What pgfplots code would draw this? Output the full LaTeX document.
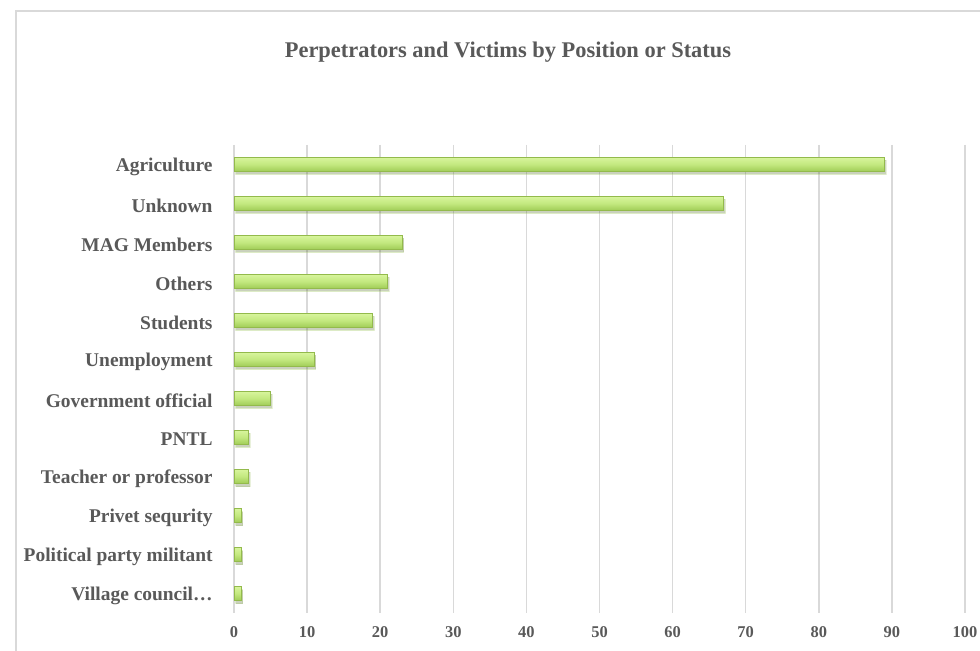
\documentclass[border=0pt]{standalone}
\usepackage{pgfplots}
\pgfplotsset{compat=1.18}
\usepackage{fontspec}
\setmainfont{Liberation Serif}
\usetikzlibrary{shadows}
\definecolor{txt}{HTML}{595959}
\definecolor{gridc}{HTML}{D9D9D9}
\definecolor{bartop}{HTML}{D8F59C}
\definecolor{barmid}{HTML}{C3E87F}
\definecolor{barbot}{HTML}{A0CC56}
\definecolor{baredge}{HTML}{93BA4C}
\pgfplotsset{gbar/.style={draw=baredge, line width=1bp, top color=bartop, bottom color=barbot, middle color=barmid,
  drop shadow={shadow xshift=1.5bp, shadow yshift=-3bp, opacity=0.18, fill=black}}}
\begin{document}
\begin{tikzpicture}[x=1bp,y=1bp]
\useasboundingbox (0,0) rectangle (980,651);
\fill[white] (0,0) rectangle (980,651);
\draw[gridc, line width=1.5bp] (16,0) -- (16,640) -- (980,640);
\node[font=\fontsize{22.5}{27}\selectfont\bfseries, text=txt] at (508,599) {Perpetrators and Victims by Position or Status};
\begin{axis}[at={(234bp,38bp)}, anchor=south west, scale only axis,
  width=731bp, height=468bp,
  xmin=0, xmax=100, ymin=-0.5, ymax=11.5, y dir=reverse,
  xtick={0,10,...,100}, ytick={0,...,11},
  yticklabels={Agriculture,Unknown,MAG Members,Others,Students,Unemployment,Government official,PNTL,Teacher or professor,Privet sequrity,Political party militant,Village council…},
  xmajorgrids, major grid style={gridc, line width=1.5bp},
  axis line style={draw=none}, major tick style={draw=none},
  /pgf/number format/assume math mode=true,
  xticklabel style={text=txt, font=\fontsize{16.5}{20}\selectfont\bfseries, yshift=-10bp},
  yticklabel style={text=txt, font=\fontsize{19.5}{23}\selectfont\bfseries, inner sep=0pt, xshift=-17bp, yshift=-2bp},
  xbar, bar width=14bp, bar shift=0pt,
]
\addplot[gbar] coordinates {(89,0)};
\addplot[gbar] coordinates {(67,1)};
\addplot[gbar] coordinates {(23,2)};
\addplot[gbar] coordinates {(21,3)};
\addplot[gbar] coordinates {(19,4)};
\addplot[gbar] coordinates {(11,5)};
\addplot[gbar] coordinates {(5,6)};
\addplot[gbar] coordinates {(2,7)};
\addplot[gbar] coordinates {(2,8)};
\addplot[gbar] coordinates {(1,9)};
\addplot[gbar] coordinates {(1,10)};
\addplot[gbar] coordinates {(1,11)};
\end{axis}
\end{tikzpicture}
\end{document}
